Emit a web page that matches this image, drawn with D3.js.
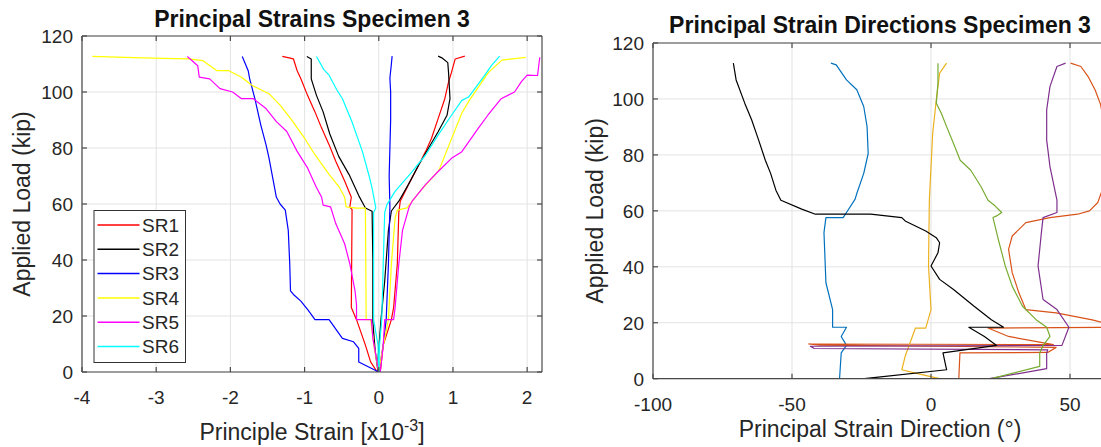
<!DOCTYPE html>
<html>
<head>
<meta charset="utf-8">
<script src="https://cdn.jsdelivr.net/npm/d3@7"></script>
<style>
  body { margin: 0; background: #fff; }
  svg { display: block; }
  text { font-family: "Liberation Sans", Arial, sans-serif; fill: #262626; }
</style>
</head>
<body>
<div id="chart"></div>
<script>
// ---- data: principal strains (x10^-3) vs applied load (kip) ----
var gaugeNames = ["SR1", "SR2", "SR3", "SR4", "SR5", "SR6"];
var gaugeColors = ["#ff0000", "#000000", "#0000ff", "#ffff00", "#ff00ff", "#00ffff"];

var sr1Min = [[-1.30,112.7],[-1.15,111.8],[-1.10,107.6],[-1.05,104.7],[-0.96,98.8],[-0.86,92.9],[-0.77,87.1],[-0.67,81.2],[-0.58,75.3],[-0.46,68.2],[-0.37,62.4],[-0.39,59],[-0.36,58],[-0.37,23],[-0.30,18.7],[-0.18,9.6],[-0.11,3.6],[-0.02,0]];
var sr1Max = [[0.02,0],[0.06,9.6],[0.17,18.7],[0.20,23],[0.25,38.6],[0.27,57],[0.29,61],[0.40,66.9],[0.54,74],[0.63,78.7],[0.71,83.4],[0.80,90.5],[0.89,97.6],[0.94,103.5],[0.98,107],[1.03,111.8],[1.16,112.8]];
var sr2Min = [[-0.97,112.7],[-0.91,111.8],[-0.91,104.7],[-0.84,98.8],[-0.75,92.9],[-0.66,85],[-0.54,77],[-0.40,70.5],[-0.27,63],[-0.18,58.6],[-0.09,57.4],[-0.08,40],[-0.08,18],[-0.05,8],[-0.01,0]];
var sr2Max = [[0.0,0],[-0.01,4.8],[0.03,18.7],[0.08,32.5],[0.13,50.6],[0.17,57.5],[0.27,61],[0.40,67],[0.54,74],[0.67,79.9],[0.80,85.8],[0.92,91.7],[0.96,97.6],[0.94,107.1],[0.93,110.5],[0.85,112.2],[0.80,112.8]];
var sr3Min = [[-1.84,112.7],[-1.76,107.6],[-1.74,104.7],[-1.67,97.6],[-1.59,88.2],[-1.52,81.2],[-1.48,76.5],[-1.43,69.4],[-1.38,62.4],[-1.33,60],[-1.26,57.8],[-1.22,50.6],[-1.20,38.6],[-1.19,29],[-1.15,27.7],[-1.05,25.3],[-0.95,22],[-0.86,18.7],[-0.67,18.7],[-0.49,12],[-0.34,10.8],[-0.27,8.4],[-0.27,3.6],[0,0]];
var sr3Max = [[0.0,0],[0.06,9.6],[0.10,18.7],[0.13,38.6],[0.15,59],[0.14,70],[0.15,80],[0.16,90],[0.16,100],[0.15,105],[0.17,110],[0.18,112.8]];
var sr4Min = [[-3.86,112.7],[-3.3,112.3],[-2.9,112.0],[-2.56,111.8],[-2.37,111.2],[-2.18,107.6],[-2.02,107.6],[-1.85,105.3],[-1.71,102.4],[-1.48,99.4],[-1.33,95.3],[-1.19,90.6],[-1.0,83.5],[-0.86,77.6],[-0.67,70.6],[-0.53,65.9],[-0.46,62.4],[-0.44,59],[-0.30,58.5],[-0.18,58.5],[-0.17,18.7],[-0.11,18.7],[-0.06,8.4],[0,0]];
var sr4Max = [[0,0],[0.05,8],[0.13,18.7],[0.17,38.6],[0.22,55],[0.25,57.8],[0.38,58.6],[0.57,65],[0.81,72],[1.12,92.5],[1.22,97],[1.44,105.5],[1.40,104.2],[1.48,107],[1.66,111.4],[1.98,112.4]];
var sr5Min = [[-2.58,112.7],[-2.44,109.4],[-2.42,105.3],[-2.28,104.7],[-2.14,101.2],[-1.97,100],[-1.85,97.6],[-1.69,97.6],[-1.52,94.1],[-1.38,89.4],[-1.24,85.9],[-1.10,78.8],[-0.96,72.9],[-0.84,65.9],[-0.77,62.4],[-0.75,59.6],[-0.65,59],[-0.58,53],[-0.46,45.8],[-0.39,38.6],[-0.32,29],[-0.30,24],[-0.30,18.7],[-0.10,18.7],[-0.08,12],[0,0]];
var sr5Max = [[0.02,0],[0.06,9.6],[0.08,18.7],[0.20,18.7],[0.22,23],[0.27,38.6],[0.32,50.6],[0.41,59],[0.45,61],[0.63,66.9],[0.80,71.6],[0.98,76.3],[1.12,78.7],[1.34,87],[1.47,91.7],[1.65,97.6],[1.83,100],[1.92,103.6],[2.0,106],[2.14,105.9],[2.17,112.4]];
var sr6Min = [[-0.84,112.7],[-0.74,108],[-0.67,106],[-0.57,101],[-0.49,97.6],[-0.36,89.3],[-0.22,78.7],[-0.13,70],[-0.09,65.7],[-0.04,58.6],[-0.07,57],[-0.07,18.7],[-0.01,9.6],[0,0]];
var sr6Max = [[0,0],[0.01,9.6],[0.04,18.7],[0.06,38.6],[0.08,57],[0.11,59.8],[0.22,64.5],[0.45,71.6],[0.63,77.5],[0.80,84.6],[0.98,91.7],[1.12,97],[1.21,98.2],[1.43,106],[1.52,109.5],[1.63,112.8]];

// ---- data: principal strain direction (deg) vs applied load (kip) ----
var dirColors = ["#0072bd", "#d95319", "#edb120", "#7e2f8e", "#77ac30", "#000000"];
var dir1 = [[-36,112.8],[-34.1,112.2],[-30.4,106.8],[-26.7,103.3],[-24.2,97.3],[-23,90.1],[-22.6,80.5],[-24.2,73.4],[-26.7,66.2],[-27.3,64.2],[-30.4,59.4],[-31.6,57.6],[-37.8,57.6],[-38.5,52.2],[-37.8,34.3],[-35.4,24.7],[-35.4,18.4],[-30.4,18.4],[-32.3,15.1],[-30.4,11.9],[-32.3,9.2],[-32.9,0]];
var dir2 = [[50.2,112.8],[53.9,111.6],[56.5,108],[59,103.3],[61,98],[62.5,90],[63,80],[62.5,70],[60,63],[57,60],[52.7,58.8],[42.8,57.6],[34.1,55.8],[29.2,51],[27.9,46.2],[29.2,37.9],[31.6,30.7],[34.1,24.7],[45,23.5],[58,21],[66,19],[66,18.4],[20.5,18.1],[27.9,15.1],[44,12.2],[-44,12.4],[-40,12],[45,11.2],[42,9.4],[10.4,9.2],[10,0]];
var dir3 = [[5.6,112.8],[3.1,109.2],[1.9,99.7],[0.6,87.7],[-0.6,63.8],[-0.9,40.3],[0,24.7],[-1.9,18.1],[-5.6,18.1],[-9.3,8],[-10.5,3.2],[-5.6,2],[3.1,0]];
var dir4 = [[48.4,112.8],[45.3,111.6],[42.8,104.5],[41.6,96.1],[41.6,85.3],[42.8,75.7],[45.3,63.8],[45.3,59.4],[40.3,57.6],[39.7,52.2],[38.5,40.3],[40.3,28.3],[45.3,24.7],[49.6,18.4],[47.1,11.9],[-43.4,11.6],[-42,10.8],[42,10.3],[41.6,9.2],[41.6,3.6],[21,0]];
var dir5 = [[2.5,112.8],[2.5,105.6],[1.9,98.5],[3.7,94.9],[5.6,90.1],[8.1,84.1],[10.5,78.1],[14.3,74.5],[18,68.6],[20.5,63.8],[23,61.8],[25.4,59.4],[23.6,58.2],[22.3,57.6],[24.2,49.8],[26.7,40.3],[29.2,33.1],[32.9,25.9],[37.8,21.1],[41.6,18.4],[42.8,15.1],[40.3,11.9],[39.1,9.2],[39.1,4.4],[21.7,0]];
var dir6 = [[-71.1,112.8],[-70.1,106.8],[-67,98.5],[-64.5,92.5],[-62,85.3],[-59.6,78.1],[-57.7,73.4],[-55.8,67.4],[-54,63.8],[-46.5,60.6],[-41.6,58.8],[-39,58.8],[-30.4,58.8],[-21.7,58.8],[-10.5,57.6],[-9.3,56.4],[-1.9,52.8],[1.9,50.4],[3.1,48.6],[2.5,45],[0,40.3],[3.1,35.5],[8.1,31.9],[15.5,25.9],[21.7,21.1],[26.1,18.4],[13.6,18.4],[19.2,15.1],[23.6,11.9],[4.3,9.2],[5.6,3.2],[-24,0]];

var strainTicks = [-4, -3, -2, -1, 0, 1, 2];
var angleTicks = [-100, -50, 0, 50];
var loadTicks = [0, 20, 40, 60, 80, 100, 120];

var strainLines = [
  { name: 0, pts: sr1Min }, { name: 0, pts: sr1Max },
  { name: 1, pts: sr2Min }, { name: 1, pts: sr2Max },
  { name: 2, pts: sr3Min }, { name: 2, pts: sr3Max },
  { name: 3, pts: sr4Min }, { name: 3, pts: sr4Max },
  { name: 4, pts: sr5Min }, { name: 4, pts: sr5Max },
  { name: 5, pts: sr6Min }, { name: 5, pts: sr6Max }
];
var dirLines = [dir1, dir2, dir3, dir4, dir5, dir6];

var svg = d3.select("#chart").append("svg")
  .attr("width", 1101)
  .attr("height", 447);

function drawPanel(cfg) {
  var x = d3.scaleLinear().domain(cfg.xDomain).range([cfg.left, cfg.right]);
  var y = d3.scaleLinear().domain([0, 120]).range([cfg.bottom, cfg.top]);
  var g = svg.append("g");

  // grid
  g.append("g").selectAll("line").data(cfg.xTicks).enter().append("line")
    .attr("x1", function (d) { return x(d); }).attr("x2", function (d) { return x(d); })
    .attr("y1", cfg.top).attr("y2", cfg.bottom)
    .attr("stroke", "#e3e3e3").attr("stroke-width", 1);
  g.append("g").selectAll("line").data(loadTicks).enter().append("line")
    .attr("x1", cfg.left).attr("x2", cfg.right)
    .attr("y1", function (d) { return y(d); }).attr("y2", function (d) { return y(d); })
    .attr("stroke", "#e3e3e3").attr("stroke-width", 1);

  // data lines
  var clipId = "clip" + cfg.id;
  svg.append("clipPath").attr("id", clipId).append("rect")
    .attr("x", cfg.left).attr("y", cfg.top)
    .attr("width", cfg.right - cfg.left).attr("height", cfg.bottom - cfg.top);
  var line = d3.line()
    .x(function (d) { return x(d[0]); })
    .y(function (d) { return y(d[1]); });
  g.append("g").attr("clip-path", "url(#" + clipId + ")")
    .selectAll("path").data(cfg.lines).enter().append("path")
    .attr("d", function (d) { return line(d.pts); })
    .attr("fill", "none")
    .attr("stroke", function (d) { return d.color; })
    .attr("stroke-width", 1.2)
    .attr("stroke-linejoin", "round");

  // axes (matlab style, ticks pointing in)
  var tickLen = 5;
  var ax = g.append("g").attr("stroke", "#4a4a4a").attr("stroke-width", 1.2);
  ax.append("line").attr("x1", cfg.left).attr("x2", cfg.right).attr("y1", cfg.bottom).attr("y2", cfg.bottom);
  ax.append("line").attr("x1", cfg.left).attr("x2", cfg.right).attr("y1", cfg.top).attr("y2", cfg.top);
  ax.append("line").attr("x1", cfg.left).attr("x2", cfg.left).attr("y1", cfg.top).attr("y2", cfg.bottom);
  ax.append("line").attr("x1", cfg.right).attr("x2", cfg.right).attr("y1", cfg.top).attr("y2", cfg.bottom);
  cfg.xTicks.forEach(function (t) {
    ax.append("line").attr("x1", x(t)).attr("x2", x(t)).attr("y1", cfg.bottom).attr("y2", cfg.bottom - tickLen);
    ax.append("line").attr("x1", x(t)).attr("x2", x(t)).attr("y1", cfg.top).attr("y2", cfg.top + tickLen);
  });
  loadTicks.forEach(function (t) {
    ax.append("line").attr("x1", cfg.left).attr("x2", cfg.left + tickLen).attr("y1", y(t)).attr("y2", y(t));
    ax.append("line").attr("x1", cfg.right).attr("x2", cfg.right - tickLen).attr("y1", y(t)).attr("y2", y(t));
  });

  g.append("g").selectAll("text").data(cfg.xTicks).enter().append("text")
    .attr("x", function (d) { return x(d); })
    .attr("y", cfg.bottom + 32)
    .attr("text-anchor", "middle")
    .attr("font-size", "19px")
    .text(function (d) { return d; });
  g.append("g").selectAll("text").data(loadTicks).enter().append("text")
    .attr("x", cfg.left - 9)
    .attr("y", function (d) { return y(d); })
    .attr("dy", "0.36em")
    .attr("text-anchor", "end")
    .attr("font-size", "19px")
    .text(function (d) { return d; });

  // title and labels
  g.append("text")
    .attr("x", (cfg.left + cfg.right) / 2)
    .attr("y", cfg.titleY)
    .attr("text-anchor", "middle")
    .attr("font-size", "23px")
    .attr("font-weight", "bold")
    .style("fill", "#111")
    .text(cfg.title);
  g.append("text")
    .attr("transform", "translate(" + cfg.yLabelX + "," + ((cfg.top + cfg.bottom) / 2) + ") rotate(-90)")
    .attr("text-anchor", "middle")
    .attr("font-size", "23px")
    .text("Applied Load (kip)");
  var xl = g.append("text")
    .attr("x", (cfg.left + cfg.right) / 2)
    .attr("y", cfg.xLabelY)
    .attr("text-anchor", "middle")
    .attr("font-size", "23px");
  cfg.xLabel(xl);
  return { x: x, y: y, g: g };
}

drawPanel({
  id: "a", left: 82, right: 542, top: 36, bottom: 372,
  xDomain: [-4, 2.2], xTicks: strainTicks,
  lines: strainLines.map(function (d) { return { pts: d.pts, color: gaugeColors[d.name] }; }),
  title: "Principal Strains Specimen 3", titleY: 27,
  yLabelX: 30, xLabelY: 440,
  xLabel: function (t) {
    t.append("tspan").text("Principle Strain [x10");
    t.append("tspan").attr("dy", -9).attr("font-size", "16px").text("-3");
    t.append("tspan").attr("dy", 9).text("]");
  }
});

drawPanel({
  id: "b", left: 653, right: 1107, top: 43, bottom: 378.7,
  xDomain: [-100, 63.3], xTicks: angleTicks,
  lines: dirLines.map(function (d, i) { return { pts: d, color: dirColors[i] }; }),
  title: "Principal Strain Directions Specimen 3", titleY: 33,
  yLabelX: 603, xLabelY: 437,
  xLabel: function (t) {
    t.text("Principal Strain Direction (\u00b0)");
  }
});

// legend for the strain panel
var legend = svg.append("g");
legend.append("rect")
  .attr("x", 94).attr("y", 210.5)
  .attr("width", 91.5).attr("height", 152)
  .attr("fill", "#fff").attr("stroke", "#333").attr("stroke-width", 1);
var items = legend.selectAll("g.item").data(gaugeNames).enter().append("g").attr("class", "item")
  .attr("transform", function (d, i) { return "translate(0," + (225 + i * 24.3) + ")"; });
items.append("line")
  .attr("x1", 97.5).attr("x2", 139.5).attr("y1", 0).attr("y2", 0)
  .attr("stroke", function (d, i) { return gaugeColors[i]; })
  .attr("stroke-width", 1.5);
items.append("text")
  .attr("x", 142).attr("y", 0).attr("dy", "0.36em")
  .attr("font-size", "19px")
  .text(function (d) { return d; });
</script>
</body>
</html>
